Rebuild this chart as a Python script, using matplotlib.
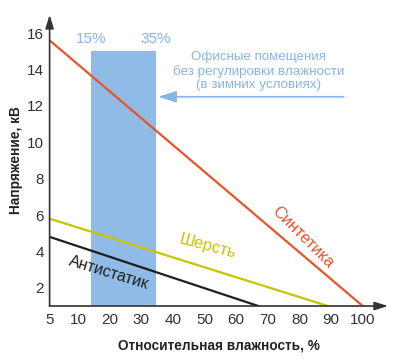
import numpy as np
import matplotlib
matplotlib.use("Agg")
import matplotlib.pyplot as plt

plt.rcParams["font.family"] = ["Liberation Sans", "DejaVu Sans"]

# данные (влажность %, напряжение кВ)
synth_x = [5, 100]
synth_y = [15.6, 1.0]
wool_x = [5, 89]
wool_y = [5.8, 1.0]
anti_x = [5, 67]
anti_y = [4.8, 1.0]
office_range = [14, 34.5]
office_labels = ["15%", "35%"]
office_top = 15.0
x_ticks = [5, 10, 20, 30, 40, 50, 60, 70, 80, 90, 100]
y_ticks = [2, 4, 6, 8, 10, 12, 14, 16]

# участок 5..10 на оси сжат
K = 1.8


def fwd(x):
    x = np.asarray(x, dtype=float)
    return np.where(x < 10, 10 - (10 - x) * K, x)


def inv(y):
    y = np.asarray(y, dtype=float)
    return np.where(y < 10, 10 - (10 - y) / K, y)


RED = "#ea5328"
YEL = "#c9c300"
BLK = "#1e1e1e"
BLUE = "#8fbbe6"
TXTB = "#86b6e8"
AX = "#333333"

fig = plt.figure(figsize=(4.0, 3.63), dpi=100)
ax = fig.add_axes([0.124, 0.157, 0.846, 0.802])
ax.set_xscale("function", functions=(fwd, inv))
ax.set_xlim(5, 108)
ax.set_ylim(1, 17)

ax.bar((office_range[0] + office_range[1]) / 2, office_top - 1, bottom=1,
       width=office_range[1] - office_range[0], color=BLUE, zorder=1)

ax.plot(synth_x, synth_y, color=RED, lw=1.6, zorder=3)
ax.plot(wool_x, wool_y, color=YEL, lw=1.6, zorder=3)
ax.plot(anti_x, anti_y, color=BLK, lw=1.6, zorder=3)

for s in ax.spines.values():
    s.set_visible(False)
ax.annotate("", xy=(1.0, 0), xytext=(0, 0), xycoords="axes fraction",
            arrowprops=dict(arrowstyle="-|>,head_length=0.8,head_width=0.25",
                            color=AX, lw=1.2, shrinkA=0, shrinkB=0))
ax.annotate("", xy=(0, 1.0), xytext=(0, 0), xycoords="axes fraction",
            arrowprops=dict(arrowstyle="-|>,head_length=0.8,head_width=0.25",
                            color=AX, lw=1.2, shrinkA=0, shrinkB=0))

ax.set_xticks(x_ticks)
ax.set_xticklabels([str(t) for t in x_ticks])
ax.set_yticks(y_ticks)
ax.minorticks_off()
ax.tick_params(length=0, labelsize=11, colors="#333333")
ax.tick_params(axis="x", pad=5)
ax.tick_params(axis="y", pad=4)

ax.set_xlabel("Относительная влажность, %", fontsize=9.8, fontweight="bold",
              labelpad=8, color="#222222")
ax.set_ylabel("Напряжение, кВ", fontsize=9.8, fontweight="bold",
              labelpad=3, color="#222222")

for xv, lab in zip(office_range, office_labels):
    ax.text(xv, 15.65, lab, color=TXTB, fontsize=11, ha="center",
            va="center")
ax.text(67, 13.9, "Офисные помещения\nбез регулировки влажности\n(в зимних условиях)",
        color=TXTB, fontsize=9.6, ha="center", va="center", linespacing=1.15)
ax.annotate("", xy=(35.3, 12.5), xytext=(94, 12.5),
            arrowprops=dict(arrowstyle="-|>,head_length=1.1,head_width=0.35",
                            color=TXTB, lw=1.2, shrinkA=0, shrinkB=0))

ax.text(81.2, 4.8, "Синтетика", color=RED, fontsize=12, rotation=-45,
        ha="center", va="center")
ax.text(51, 4.3, "Шерсть", color=YEL, fontsize=12, rotation=-15,
        ha="center", va="center")
ax.text(19.8, 2.85, "Антистатик", color=BLK, fontsize=11.5, rotation=-17,
        ha="center", va="center")

fig.savefig("out.png", dpi=100)
